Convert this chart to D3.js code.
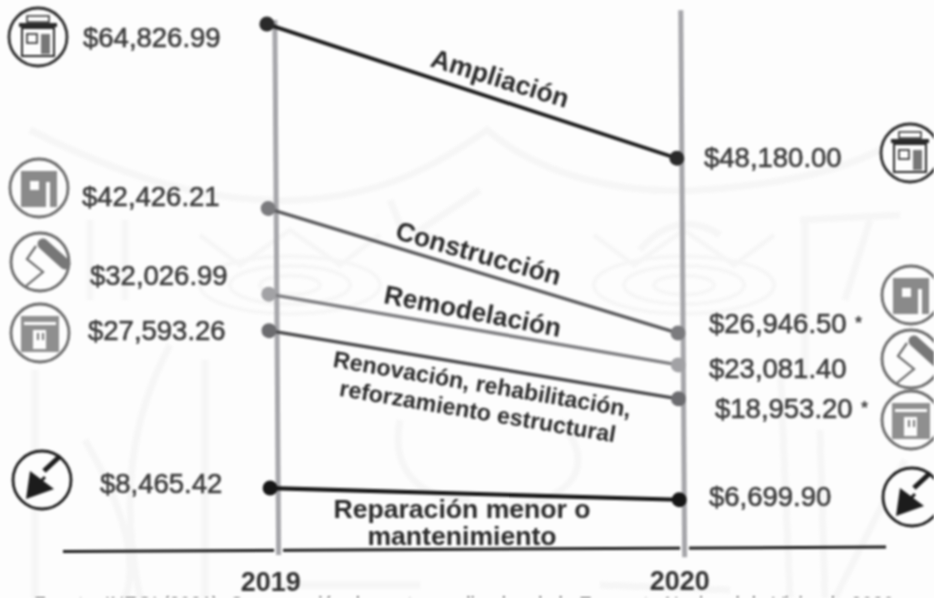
<!DOCTYPE html>
<html>
<head>
<meta charset="utf-8">
<script src="https://cdn.jsdelivr.net/npm/d3@7"></script>
<style>
  html, body { margin: 0; padding: 0; background: #fdfdfd; overflow: hidden; }
  svg { display: block; filter: blur(0.85px); }
  text { font-family: "Liberation Sans", Arial, sans-serif; }
</style>
</head>
<body>
<div id="chart"></div>
<script>
// Gasto promedio por tipo de obra, 2019 contra 2020
var years = ['2019', '2020'];
var categories = ['Ampliación', 'Construcción', 'Remodelación', 'Renovación', 'Reparación'];
var values2019 = [64826.99, 42426.21, 32026.99, 27593.26, 8465.42];
var values2020 = [48180.00, 26946.50, 23081.40, 18953.20, 6699.90];
var labels2019 = ['$64,826.99', '$42,426.21', '$32,026.99', '$27,593.26', '$8,465.42'];
var labels2020 = ['$48,180.00', '$26,946.50', '$23,081.40', '$18,953.20', '$6,699.90'];
var stars2020 = ['', '*', '', '*', ''];
var footnote = 'Fuente: INEGI (2021). Comparación de gastos realizados de la Encuesta Nacional de Vivienda 2020';

// Layout, kept apart from the values
var width = 934, height = 598;
var lineColors = ['#1d1d1d', '#5a5a5c', '#7d7d80', '#48484a', '#141414'];
var dotColors = ['#2a2a2a', '#7b7b7e', '#a2a2a5', '#6c6c6f', '#161616'];
var lineWidths = [3.8, 3.4, 3.4, 3.4, 4.2];
var iconKinds = ['shop', 'block', 'roller', 'house', 'trowel'];
var iconColors = ['#2b2b2b', '#6a6a6a', '#6a6a6a', '#6a6a6a', '#1c1c1c'];
var leftIcons = [[38, 37], [39, 188], [40, 262], [40, 333], [42, 480]];
var rightIcons = [[910, 153], [911, 295], [911, 359], [911, 420], [912, 497]];
var leftLabelX = [83, 82, 90, 88, 100];
var leftLabelY = [47, 206, 285, 340, 493];
var rightLabelX = [704, 709, 709, 715, 709];
var rightLabelY = [167, 333, 378, 418, 506];

var svg = d3.select('#chart').append('svg')
  .attr('width', width)
  .attr('height', height);

drawWatermark();

var x = d3.scalePoint().domain(years).range([266.7, 675.7]);
var y = d3.scaleLinear().domain([64826.99, 8465.42]).range([26, 490]);

// baseline goes under the year rules, with a small white gap where they cross
svg.append('line')
  .attr('x1', 63).attr('y1', 551.5)
  .attr('x2', 886).attr('y2', 547)
  .attr('stroke', '#1e1e1e')
  .attr('stroke-width', 3);

// The scan is slightly crooked, so the plot sits in a sheared group
var plot = svg.append('g').attr('transform', 'matrix(1,-0.0071,0.007,1,0,0)');

var axisOffsets = [8, 5];
var axisTops = [22, 15];
var axisBottoms = [557, 562];

plot.selectAll('line.gap')
  .data(years)
  .enter()
  .append('line')
  .attr('class', 'gap')
  .attr('x1', function(d, i) { return x(d) + axisOffsets[i]; })
  .attr('x2', function(d, i) { return x(d) + axisOffsets[i]; })
  .attr('y1', 540)
  .attr('y2', function(d, i) { return axisBottoms[i]; })
  .attr('stroke', '#fdfdfd')
  .attr('stroke-width', 9);

plot.selectAll('line.year')
  .data(years)
  .enter()
  .append('line')
  .attr('class', 'year')
  .attr('x1', function(d, i) { return x(d) + axisOffsets[i]; })
  .attr('x2', function(d, i) { return x(d) + axisOffsets[i]; })
  .attr('y1', function(d, i) { return axisTops[i]; })
  .attr('y2', function(d, i) { return axisBottoms[i]; })
  .attr('stroke', '#a6a6aa')
  .attr('stroke-width', 5);

var rows = categories.map(function(c, i) {
  return { name: c, i: i, v0: values2019[i], v1: values2020[i] };
});

plot.selectAll('line.serie')
  .data(rows)
  .enter()
  .append('line')
  .attr('class', 'serie')
  .attr('x1', x(years[0]))
  .attr('x2', x(years[1]))
  .attr('y1', function(d) { return y(d.v0); })
  .attr('y2', function(d) { return y(d.v1); })
  .attr('stroke', function(d) { return lineColors[d.i]; })
  .attr('stroke-width', function(d) { return lineWidths[d.i]; });

plot.selectAll('circle.start')
  .data(rows)
  .enter()
  .append('circle')
  .attr('class', 'start')
  .attr('cx', x(years[0]))
  .attr('cy', function(d) { return y(d.v0); })
  .attr('r', 7.5)
  .attr('fill', function(d) { return dotColors[d.i]; });

plot.selectAll('circle.end')
  .data(rows)
  .enter()
  .append('circle')
  .attr('class', 'end')
  .attr('cx', x(years[1]))
  .attr('cy', function(d) { return y(d.v1); })
  .attr('r', 7.5)
  .attr('fill', function(d) { return dotColors[d.i]; });

// Dollar labels either side
function moneyLabels(cls, labels, xs, ys) {
  svg.selectAll('text.' + cls)
    .data(labels)
    .enter()
    .append('text')
    .attr('class', cls)
    .attr('x', function(d, i) { return xs[i]; })
    .attr('y', function(d, i) { return ys[i]; })
    .attr('font-size', 27.5)
    .attr('fill', '#3c3c3c')
    .attr('stroke', '#3c3c3c')
    .attr('stroke-width', 0.6)
    .text(function(d) { return d; });
}
moneyLabels('left', labels2019, leftLabelX, leftLabelY);
moneyLabels('right', labels2020, rightLabelX, rightLabelY);

svg.selectAll('text.star')
  .data(stars2020)
  .enter()
  .append('text')
  .attr('class', 'star')
  .attr('x', function(d, i) { return rightLabelX[i] + 146; })
  .attr('y', function(d, i) { return rightLabelY[i] - 4; })
  .attr('font-size', 18)
  .attr('font-weight', 'bold')
  .attr('fill', '#444')
  .text(function(d) { return d; });

// Rotated series names that ride on the lines
var seriesText = [
  { lines: ['Ampliación'], cx: 497.5, cy: 87, rot: 17.2, size: 26.5 },
  { lines: ['Construcción'], cx: 476, cy: 262, rot: 16, size: 26.5 },
  { lines: ['Remodelación'], cx: 471, cy: 320, rot: 10.9, size: 26.3 },
  { lines: ['Renovación, rehabilitación,', 'reforzamiento estructural'], cx: 481, cy: 392, rot: 9.6, size: 23.2, gap: 27.5 },
  { lines: ['Reparación menor o', 'mantenimiento'], cx: 462, cy: 518, rot: 0, size: 26.6, gap: 27 }
];

seriesText.forEach(function(s) {
  var g = svg.append('g')
    .attr('transform', 'translate(' + s.cx + ',' + s.cy + ') rotate(' + s.rot + ')');
  s.lines.forEach(function(t, i) {
    g.append('text')
      .attr('y', i * (s.gap || 0))
      .attr('text-anchor', 'middle')
      .attr('font-size', s.size)
      .attr('font-weight', 'bold')
      .attr('fill', '#2a2a2a')
      .text(t);
  });
});

// Years and the cut off source line
var yearY = [591, 590];
svg.selectAll('text.yr')
  .data(years)
  .enter()
  .append('text')
  .attr('class', 'yr')
  .attr('x', function(d) { return x(d) + 4; })
  .attr('y', function(d, i) { return yearY[i]; })
  .attr('text-anchor', 'middle')
  .attr('font-size', 27)
  .attr('font-weight', 'bold')
  .attr('fill', '#333')
  .text(function(d) { return d; });

svg.append('text')
  .attr('x', 34)
  .attr('y', 611)
  .attr('font-size', 21)
  .attr('textLength', 860)
  .attr('lengthAdjust', 'spacingAndGlyphs')
  .attr('fill', '#555')
  .text(footnote);

// Round pictograms at both ends of each series
function drawIcon(pos, kind, color) {
  var g = svg.append('g').attr('transform', 'translate(' + pos[0] + ',' + pos[1] + ')');
  g.append('circle').attr('r', 29)
    .attr('fill', '#fdfdfd')
    .attr('stroke', color)
    .attr('stroke-width', 2.8);
  function box(bx, by, w, h, fill) {
    g.append('rect').attr('x', bx).attr('y', by).attr('width', w).attr('height', h)
      .attr('fill', fill === undefined ? color : fill);
  }
  if (kind == 'shop') {
    box(-11, -21, 22, 5, '#ffffff');
    g.append('rect').attr('x', -11).attr('y', -21).attr('width', 22).attr('height', 6)
      .attr('fill', 'none').attr('stroke', color).attr('stroke-width', 1.5);
    box(-19, -14, 38, 4);
    g.append('rect').attr('x', -16).attr('y', -9).attr('width', 32).attr('height', 28)
      .attr('fill', 'none').attr('stroke', color).attr('stroke-width', 2);
    g.append('rect').attr('x', -11).attr('y', -3).attr('width', 10).attr('height', 9)
      .attr('fill', 'none').attr('stroke', color).attr('stroke-width', 1.6);
    box(3, -3, 9, 20, '#777');
  } else if (kind == 'block') {
    box(-18, -17, 36, 36, '#8a8a8a');
    box(-9, -7, 9, 9, '#fdfdfd');
    box(7, -6, 4, 25, '#fdfdfd');
  } else if (kind == 'roller') {
    g.append('path')
      .attr('d', 'M3,-18 L25,2')
      .attr('stroke', '#777').attr('stroke-width', 11)
      .attr('stroke-linecap', 'round');
    g.append('path')
      .attr('d', 'M-4,-16 L-13,-3 L3,10 L-14,24')
      .attr('fill', 'none').attr('stroke', color).attr('stroke-width', 2.2);
  } else if (kind == 'house') {
    box(-19, -17, 38, 36, '#8f8f8f');
    box(-16, -11, 32, 3, '#fdfdfd');
    box(-7, -3, 13, 19, '#fdfdfd');
    box(-3, 0, 2, 7, '#777');
    box(2, 0, 2, 7, '#777');
  } else {
    // trowel
    g.append('path')
      .attr('d', 'M-16,19 L-12,-9 L12,9 Z')
      .attr('fill', color);
    g.append('path')
      .attr('d', 'M-3,3 L3,-3')
      .attr('stroke', color).attr('stroke-width', 3);
    g.append('path')
      .attr('d', 'M2,-9 L17,-23')
      .attr('stroke', color).attr('stroke-width', 5);
  }
}
rows.forEach(function(d) {
  drawIcon(leftIcons[d.i], iconKinds[d.i], iconColors[d.i]);
  drawIcon(rightIcons[d.i], iconKinds[d.i], iconColors[d.i]);
});

// Faint crest printed behind the scan
function drawWatermark() {
  var wm = svg.append('g')
    .attr('fill', 'none')
    .attr('stroke', '#f6f6f6')
    .attr('stroke-width', 7);
  var paths = [
    'M30,130 C110,170 200,205 300,200 C380,195 430,170 487,130 C540,175 620,195 700,190 C770,185 830,175 880,150',
    'M35,370 L35,598', 'M90,220 L90,300', 'M125,220 L125,300', 'M205,360 L205,598',
    'M85,440 C120,500 140,560 125,598', 'M170,345 C130,420 120,500 140,598',
    'M440,240 L400,225 L390,200', 'M420,230 L480,190',
    'M640,250 C660,225 690,215 720,235', 'M800,220 L900,215 M805,220 L805,380 M870,220 L845,300',
    'M780,360 L790,598', 'M820,430 L825,598', 'M905,460 L835,598',
    'M400,420 C390,470 420,500 470,500', 'M560,420 C600,470 570,500 500,510',
    'M270,585 L420,585', 'M600,585 L730,590'
  ];
  paths.forEach(function(p) { wm.append('path').attr('d', p); });
  var crests = [[290, 285], [684, 285]];
  crests.forEach(function(c) {
    [30, 60, 90].forEach(function(r) {
      wm.append('ellipse')
        .attr('cx', c[0]).attr('cy', c[1])
        .attr('rx', r).attr('ry', r * 0.32)
        .attr('stroke-width', 4);
    });
    wm.append('path')
      .attr('d', 'M' + (c[0] - 90) + ',' + (c[1] - 50) + ' L' + (c[0] - 50) + ',' + (c[1] - 20) +
        ' L' + c[0] + ',' + (c[1] - 55) + ' L' + (c[0] + 50) + ',' + (c[1] - 20) +
        ' L' + (c[0] + 90) + ',' + (c[1] - 50))
      .attr('stroke-width', 5);
  });
}
</script>
</body>
</html>
